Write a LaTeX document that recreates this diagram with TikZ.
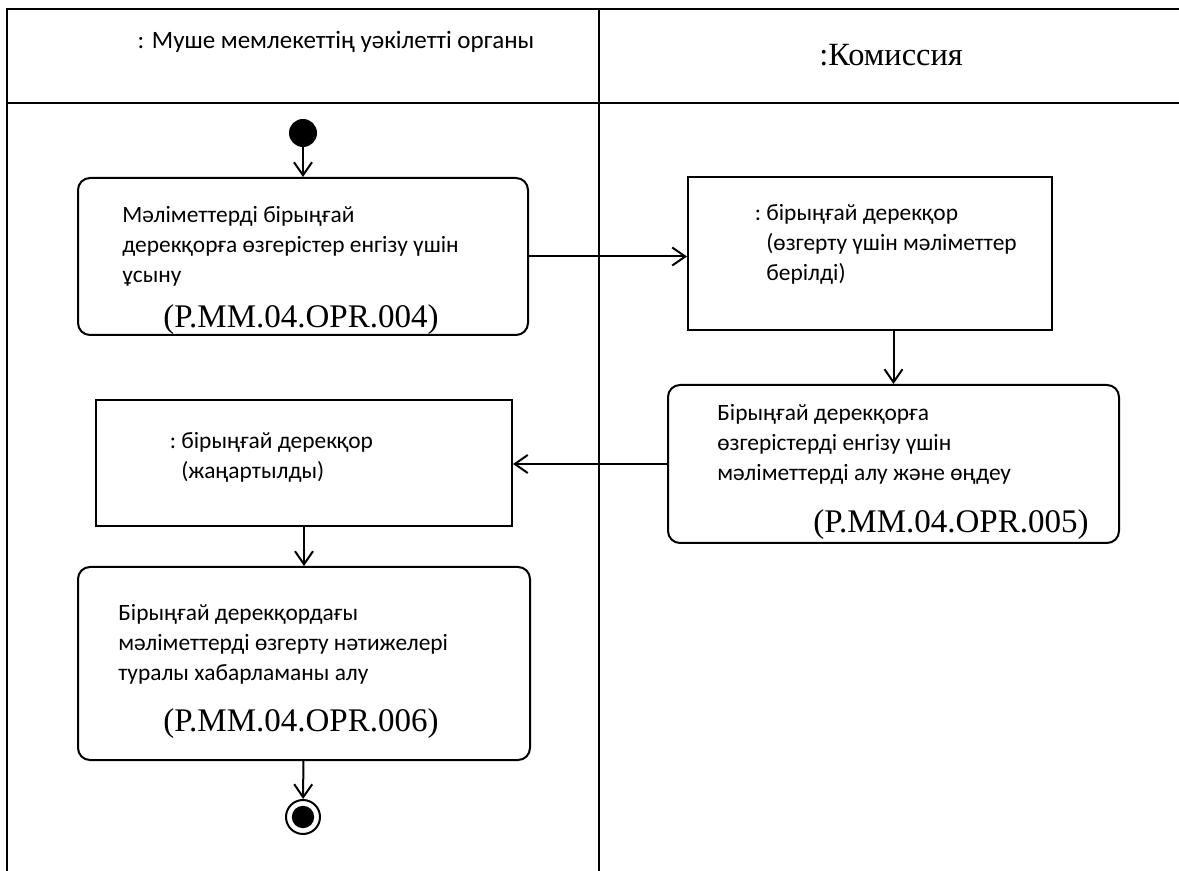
\documentclass[tikz,border=0pt]{standalone}
\usepackage{fontspec}
\setmainfont{Liberation Serif}
\newfontfamily\calib{Carlito}
\usetikzlibrary{arrows.meta}
\begin{document}
\begin{tikzpicture}
[x=0.5pt,y=-0.5pt,
  lanedecorate/.style={-,line width=1.1pt},%
  actdecorate/.style={shape=rectangle,rounded corners=6pt,draw,line width=1pt},%
  objdecorate/.style={shape=rectangle,draw,line width=1pt},%
  textdecorate/.style={anchor=base west,align=left,inner sep=0pt,
    font=\calib\fontsize{11.7}{15}\selectfont},%
  codedecorate/.style={anchor=base,inner sep=0pt,font=\fontsize{16.5}{18}\selectfont},%
  flowdecorate/.style={-{Straight Barb[length=6.5pt,width=9pt]},line width=1pt},%
  startdecorate/.style={shape=circle,fill,inner sep=0pt,minimum size=14pt},%
  stopdecorate/.style={shape=circle,draw,line width=1pt,inner sep=0pt,minimum size=17pt,
    path picture={\fill (path picture bounding box.center) circle (5.6pt);}}]
\useasboundingbox (0,0) rectangle (1179,871);
%% swimlanes
\draw[lanedecorate] (7,871) -- (7,9) -- (1179,9);
\draw[lanedecorate] (7,103) -- (1179,103);
\draw[lanedecorate] (599,9) -- (599,871);
\node (memberhead) at (336,42) [inner sep=0pt,font=\calib\fontsize{12.5}{14}\selectfont]
  {: Муше мемлекеттің уәкілетті органы};
\node (commhead) at (891,55) [inner sep=0pt,font=\fontsize{16.2}{18}\selectfont] {:Комиссия};
%% nodes or vertices
\foreach \nodename/\x/\y/\w/\h/\kind in {
  submit/303/256.5/450/157/actdecorate, given/870/253.5/364/153/objdecorate,
  process/893.5/464/451/158/actdecorate, updated/304/463/416/126/objdecorate,
  notify/304/663.5/452/193/actdecorate} {
  \node (\nodename) at (\x,\y) [\kind,minimum width=\w*0.5pt,minimum height=\h*0.5pt] {};
}
\node (start) at (303,133) [startdecorate] {};
\node (stop) at (303,817) [stopdecorate] {};
%% texts (placed at the baseline of their last line)
\node (submittext) at (122,283) [textdecorate]
  {Мәліметтерді бірыңғай\\дерекқорға өзгерістер енгізу үшін\\ұсыну};
\node (submitcode) at (301,328) [codedecorate] {(P.MM.04.OPR.004)};
\node (giventext) at (766,281) [textdecorate]
  {\llap{:\ }бірыңғай дерекқор\\(өзгерту үшін мәліметтер\\берілді)};
\node (processtext) at (717,481) [textdecorate]
  {Бірыңғай дерекқорға\\өзгерістерді енгізу үшін\\мәліметтерді алу және өңдеу};
\node (processcode) at (951,533) [codedecorate] {(P.MM.04.OPR.005)};
\node (updatedtext) at (181,479) [textdecorate]
  {\llap{:\ }бірыңғай дерекқор\\(жаңартылды)};
\node (notifytext) at (118,681) [textdecorate]
  {Бірыңғай дерекқордағы\\мәліметтерді өзгерту нәтижелері\\туралы хабарламаны алу};
\node (notifycode) at (301,731) [codedecorate] {(P.MM.04.OPR.006)};
%% edges or lines
\path
\foreach \startnode/\endnode in {start/submit, updated/notify, notify/stop} {
  (\startnode) edge[flowdecorate] (\endnode)
};
\draw[flowdecorate] (submit.east) -- (submit.east -| given.west);
\draw[flowdecorate] (given.south -| process.north) -- (process.north);
\draw[flowdecorate] (process.west) -- (process.west -| updated.east);
\end{tikzpicture}
\end{document}
